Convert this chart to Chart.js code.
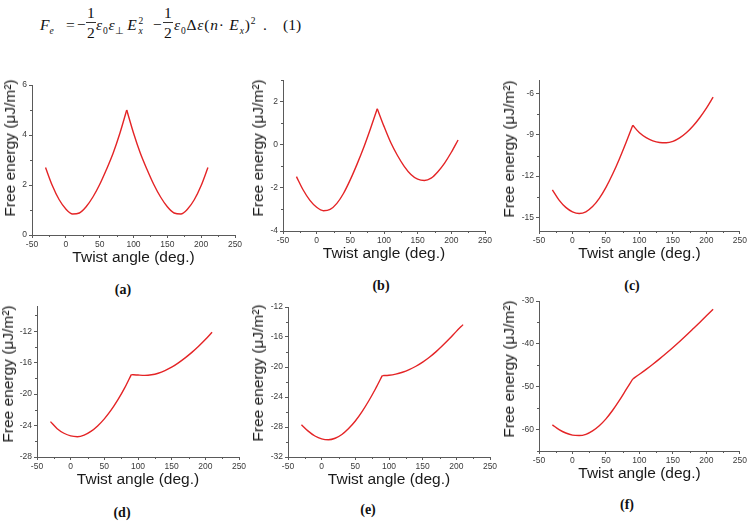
<!DOCTYPE html>
<html>
<head>
<meta charset="utf-8">
<script src="https://cdn.jsdelivr.net/npm/chart.js@4.4.1/dist/chart.umd.min.js"></script>
<style>
html, body { margin: 0; padding: 0; background: #fff; overflow: hidden; }
body { width: 749px; height: 524px; position: relative; font-family: "Liberation Sans", Arial, sans-serif; }
canvas.panel { position: absolute; }
.ytitle { position: absolute; font-size: 15.5px; color: #1a1a1a; white-space: nowrap; transform: translate(-50%, -50%) rotate(-90deg); }
.tag { position: absolute; font-family: "Liberation Serif", serif; font-weight: bold; font-size: 14px; color: #111; transform: translate(-50%, -50%); }
#eq { position: absolute; left: 0; top: 0; width: 340px; height: 46px; font-family: "Liberation Serif", serif; font-size: 15.5px; color: #111; white-space: nowrap; }
#eq > span { position: absolute; top: 10px; line-height: 30px; height: 30px; }
#eq > span.frac { top: -2px; }
#eq sub, #eq sup { font-size: 9.5px; line-height: 0; }
#eq .wide { letter-spacing: 0.8px; }
.fr { display: inline-flex; flex-direction: column; align-items: center; line-height: 16px; }
.fr span:first-child { border-bottom: 1px solid #333; padding: 0 1px 1px; }
.fr span:last-child { padding-top: 2px; }
.ss { display: inline-flex; flex-direction: column; vertical-align: middle; font-size: 9.5px; line-height: 10px; margin-left: 1px; }
</style>
</head>
<body>

<div id="eq">
  <span style="left:40px"><i>F</i><sub><i>e</i></sub></span>
  <span style="left:66px">=</span>
  <span style="left:77px">−</span>
  <span class="frac" style="left:86px"><span class="fr"><span>1</span><span>2</span></span></span>
  <span class="wide" style="left:96px"><i>ε</i><sub>0</sub><i>ε</i><sub>⊥</sub><i style="margin-left:2px">E</i><span class="ss"><span>2</span><span><i>x</i></span></span></span>
  <span style="left:153px">−</span>
  <span class="frac" style="left:163px"><span class="fr"><span>1</span><span>2</span></span></span>
  <span class="wide" style="left:174px"><i>ε</i><sub>0</sub>Δ<i>ε</i>(<i>n</i>· <i>E</i><sub><i>x</i></sub>)<sup>2</sup></span>
  <span style="left:263px">.</span>
  <span style="left:283px">(1)</span>
</div>

<script>
// Twist angle samples (deg.)
const ANGLES = [-30, -20, -10, 0, 10, 20, 30, 40, 50, 60, 70, 80, 90,
                100, 110, 120, 130, 140, 150, 160, 170, 180, 190, 200, 210];

// Free energy (uJ/m^2)
const ENERGY_A = [2.70, 1.98, 1.42, 1.04, 0.84, 0.88, 1.13, 1.52, 2.02, 2.62, 3.28, 4.08, 5.00,
                  4.08, 3.28, 2.62, 2.02, 1.52, 1.13, 0.88, 0.84, 1.04, 1.42, 1.98, 2.70];
const ENERGY_B = [-1.48, -2.10, -2.58, -2.90, -3.06, -3.00, -2.72, -2.25, -1.62, -0.90, -0.12, 0.75, 1.67,
                  0.85, 0.10, -0.50, -1.00, -1.38, -1.60, -1.66, -1.55, -1.25, -0.85, -0.35, 0.22];
const ENERGY_C = [-13.00, -13.75, -14.28, -14.60, -14.72, -14.60, -14.22, -13.62, -12.82, -11.85, -10.75, -9.55, -8.30,
                  -8.85, -9.20, -9.43, -9.55, -9.57, -9.47, -9.22, -8.85, -8.35, -7.75, -7.05, -6.25];
const ENERGY_D = [-23.50, -24.40, -24.98, -25.32, -25.42, -25.22, -24.75, -24.05, -23.15, -22.05, -20.75, -19.25, -17.52,
                  -17.58, -17.62, -17.55, -17.35, -17.02, -16.58, -16.03, -15.40, -14.70, -13.92, -13.07, -12.13];
const ENERGY_E = [-27.70, -28.55, -29.20, -29.58, -29.70, -29.50, -29.00, -28.20, -27.20, -25.95, -24.50, -22.90, -21.15,
                  -21.10, -20.95, -20.70, -20.35, -19.90, -19.35, -18.70, -17.95, -17.10, -16.20, -15.25, -14.35];
const ENERGY_F = [-58.90, -60.00, -60.80, -61.30, -61.40, -61.10, -60.30, -59.10, -57.50, -55.50, -53.20, -50.70, -48.20,
                  -47.10, -45.95, -44.75, -43.50, -42.20, -40.85, -39.45, -38.00, -36.50, -35.00, -33.45, -31.90];

// the curves have a kink at 90 deg.: each branch is smoothed on its own
const KINK_ANGLE = 90;

// Axis ranges
const X_RANGE = { min: -50, max: 250, step: 50 };
const Y_RANGES = {
    a: { min: 0, max: 6, step: 2 },
    b: { min: -4, max: 3, step: 2 },
    c: { min: -16, max: -5, step: 3 },
    d: { min: -28, max: -8.8, step: 4 },
    e: { min: -32, max: -12, step: 4 },
    f: { min: -65, max: -30, step: 10 }
};
const X_TITLE = 'Twist angle (deg.)';
const Y_TITLE = 'Free energy (μJ/m²)';

// Layout of each panel (plot area in page pixels, title and tag spots)
const PANELS = [
    { id: 'a', data: ENERGY_A, L: 32,  T: 85,  W: 203, H: 150, pr: 12, yt: [9.5, 148],     tag: [123, 290] },
    { id: 'b', data: ENERGY_B, L: 283, T: 80,  W: 202, H: 151, pr: 12, yt: [257.5, 147.5], tag: [381, 286] },
    { id: 'c', data: ENERGY_C, L: 539, T: 80,  W: 202, H: 151, pr: 8,  yt: [508.5, 148.5], tag: [632, 286] },
    { id: 'd', data: ENERGY_D, L: 37,  T: 306, W: 202, H: 151, pr: 12, yt: [7.5, 374],     tag: [122, 513] },
    { id: 'e', data: ENERGY_E, L: 288, T: 307, W: 202, H: 150, pr: 12, yt: [257.5, 373],   tag: [368, 510] },
    { id: 'f', data: ENERGY_F, L: 539, T: 301, W: 202, H: 150, pr: 8,  yt: [508.5, 368.5], tag: [627, 505] }
];

const AXIS_COLOR = '#5a5a5a';
const LINE_COLOR = 'rgb(228, 36, 38)';
const Y_AXIS_W = 30;
const X_AXIS_H = 36;
const PAD_TOP = 8;

// small minor ticks halfway between the major ones
const minorTicks = {
    id: 'minorTicks',
    afterDraw(chart) {
        const ctx = chart.ctx;
        ctx.save();
        ctx.strokeStyle = AXIS_COLOR;
        ctx.lineWidth = 1;
        ['x', 'y'].forEach(id => {
            const s = chart.scales[id];
            const step = s.options.ticks.stepSize;
            if (!s.ticks.length) return;
            for (let v = s.ticks[0].value - step / 2; v <= s.max + 1e-9; v += step) {
                if (v < s.min - 1e-9) continue;
                const p = Math.round(s.getPixelForValue(v)) + 0.5;
                ctx.beginPath();
                if (id === 'x') { ctx.moveTo(p, s.top); ctx.lineTo(p, s.top + 2); }
                else { ctx.moveTo(s.right, p); ctx.lineTo(s.right - 2, p); }
                ctx.stroke();
            }
        });
        ctx.restore();
    }
};

const tickFont = { family: '"Liberation Sans", Arial, sans-serif', size: 8.5 };

function branch(data) {
    return {
        data: data,
        borderColor: LINE_COLOR,
        borderWidth: 1.4,
        pointRadius: 0,
        cubicInterpolationMode: 'monotone',
        fill: false
    };
}

function makePanel(p) {
    const cv = document.createElement('canvas');
    cv.className = 'panel';
    const w = Y_AXIS_W + p.W + p.pr;
    const h = PAD_TOP + p.H + X_AXIS_H;
    cv.width = w; cv.height = h;
    cv.style.left = (p.L - Y_AXIS_W) + 'px';
    cv.style.top = (p.T - PAD_TOP) + 'px';
    cv.style.width = w + 'px'; cv.style.height = h + 'px';
    document.body.appendChild(cv);

    const yr = Y_RANGES[p.id];
    const points = ANGLES.map((a, i) => ({ x: a, y: p.data[i] }));
    const left = points.filter(pt => pt.x <= KINK_ANGLE);
    const right = points.filter(pt => pt.x >= KINK_ANGLE);

    new Chart(cv.getContext('2d'), {
        type: 'line',
        data: { datasets: [branch(left), branch(right)] },
        options: {
            responsive: false,
            animation: false,
            devicePixelRatio: 1,
            layout: { padding: { top: PAD_TOP, right: p.pr, left: 0, bottom: 0 } },
            plugins: { legend: { display: false }, tooltip: { enabled: false } },
            scales: {
                x: {
                    type: 'linear',
                    min: X_RANGE.min, max: X_RANGE.max,
                    ticks: { stepSize: X_RANGE.step, includeBounds: false, font: tickFont, color: '#3a3a3a', padding: 2, maxRotation: 0 },
                    grid: { drawOnChartArea: false, tickLength: 3, color: AXIS_COLOR },
                    border: { color: AXIS_COLOR, width: 1 },
                    title: {
                        display: true, text: X_TITLE, color: '#1a1a1a',
                        font: { family: '"Liberation Sans", Arial, sans-serif', size: 15.5, lineHeight: 1.2 },
                        padding: { top: 0, bottom: 4 }
                    },
                    afterFit(s) { s.height = X_AXIS_H; }
                },
                y: {
                    type: 'linear',
                    min: yr.min, max: yr.max,
                    ticks: { stepSize: yr.step, includeBounds: false, font: tickFont, color: '#3a3a3a', padding: 2 },
                    grid: { drawOnChartArea: false, tickLength: 3, color: AXIS_COLOR },
                    border: { color: AXIS_COLOR, width: 1 },
                    afterFit(s) { s.width = Y_AXIS_W; }
                }
            }
        },
        plugins: [minorTicks]
    });

    const yt = document.createElement('div');
    yt.className = 'ytitle';
    yt.textContent = Y_TITLE;
    yt.style.left = p.yt[0] + 'px';
    yt.style.top = p.yt[1] + 'px';
    document.body.appendChild(yt);

    const tag = document.createElement('div');
    tag.className = 'tag';
    tag.textContent = '(' + p.id + ')';
    tag.style.left = p.tag[0] + 'px';
    tag.style.top = p.tag[1] + 'px';
    document.body.appendChild(tag);
}

PANELS.forEach(makePanel);
</script>
</body>
</html>
